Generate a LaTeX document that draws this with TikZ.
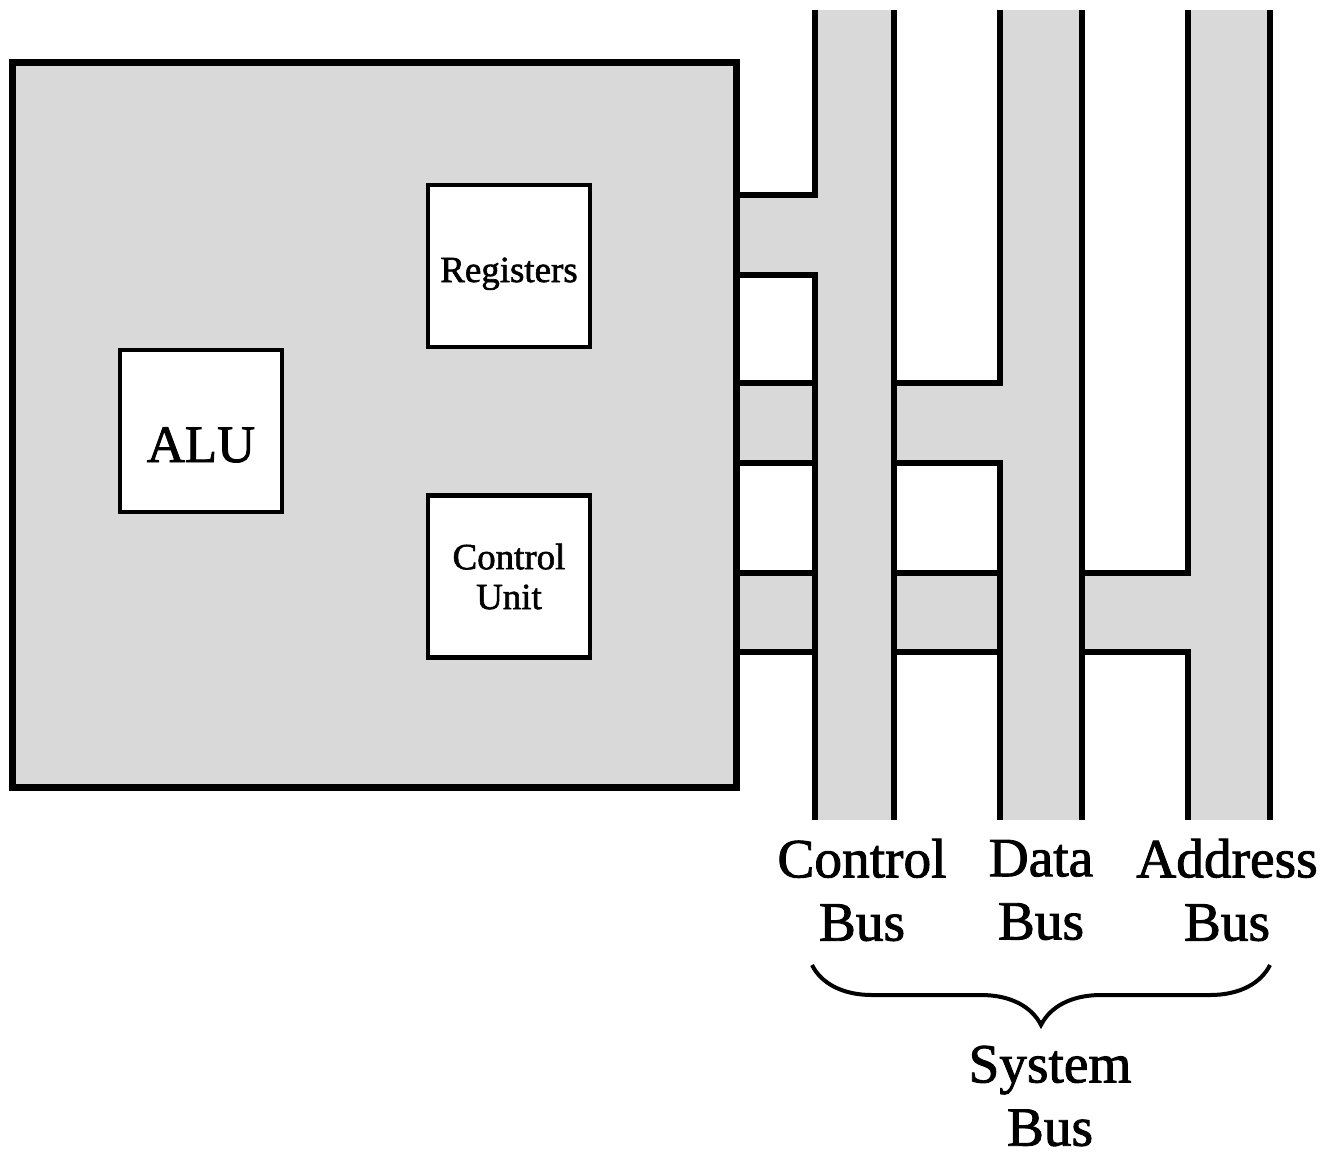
\documentclass[tikz,border=0pt]{standalone}
\usepackage{fontspec}
\newfontfamily\figfont{Liberation Serif}[BoldFont={Liberation Serif}, BoldFeatures={FakeBold=1.6}]
\usepackage{tikz}
\usetikzlibrary{positioning, decorations.pathreplacing}
\definecolor{busgray}{RGB}{217,217,217}
\tikzset{
  cpubox/.style={rectangle, draw=black, fill=busgray, line width=0.14cm,
    minimum width=14.5cm, minimum height=14.52cm},
  unitbox/.style={rectangle, draw=black, fill=white, line width=0.09cm,
    minimum size=3.24cm, align=center, inner sep=0pt},
  busline/.style={line width=0.13cm, color=black},
  buslabel/.style={align=center, inner sep=1pt, font=\figfont\bfseries\fontsize{31.5}{36}\selectfont},
  bracepath/.style={decorate, decoration={brace, mirror, amplitude=1.2cm},
    line width=0.08cm}
}

\begin{document}
\begin{tikzpicture}[x=0.02cm, y=-0.02cm]
  \useasboundingbox (0,0) rectangle (1327,1157);

  % Gray fill of buses and branches
  \foreach \xl/\xr in {815/894, 1000/1082, 1188/1270} {
    \fill[busgray] (\xl,10) rectangle (\xr,820);
  }
  \fill[busgray] (737,195) rectangle (815,275);
  \fill[busgray] (737,383) rectangle (1000,463);
  \fill[busgray] (737,573) rectangle (1188,652);

  % Right sides of the buses
  \foreach \xr in {894, 1082, 1270} {
    \draw[busline] (\xr,10) -- (\xr,820);
  }

  % Control bus left side
  \draw[busline] (815,10) -- (815,195) -- (737,195);
  \draw[busline] (737,275) -- (815,275) -- (815,820);

  % Data bus left side
  \draw[busline] (737,383) -- (815,383);
  \draw[busline] (737,463) -- (815,463);
  \draw[busline] (1000,10) -- (1000,383) -- (894,383);
  \draw[busline] (894,463) -- (1000,463) -- (1000,820);

  % Address bus left side
  \draw[busline] (737,573) -- (815,573);
  \draw[busline] (737,652) -- (815,652);
  \draw[busline] (894,573) -- (1000,573);
  \draw[busline] (894,652) -- (1000,652);
  \draw[busline] (1188,10) -- (1188,573) -- (1082,573);
  \draw[busline] (1082,652) -- (1188,652) -- (1188,820);

  % CPU and its units
  \node[cpubox] (cpu) at (374.5,425) {};
  \node[unitbox, text height=0.8cm, text depth=0.16cm,
    font=\figfont\bfseries\fontsize{21}{22.7}\selectfont] (regs) at (509,266) {Registers};
  \node[unitbox, text height=1.4cm, text depth=0.16cm,
    font=\figfont\bfseries\fontsize{30}{34}\selectfont] (alu) at (201,431) {ALU};
  \node[unitbox, font=\figfont\bfseries\fontsize{21}{22.7}\selectfont] (cu) at (509,576.5) {Control\\Unit};

  % Bus labels
  \node[buslabel] (ctrlbus) at (862,890) {Control\\Bus};
  \node[buslabel] (databus) at (1041,890) {Data\\Bus};
  \node[buslabel] (addrbus) at (1227,890) {Address\\Bus};

  % System bus brace
  \coordinate (braceL) at (812,965);
  \coordinate (braceR) at (1270,965);
  \draw[bracepath] (braceL) -- (braceR);
  \node[buslabel] (sysbus) at (1050,1096) {System\\Bus};
\end{tikzpicture}
\end{document}
